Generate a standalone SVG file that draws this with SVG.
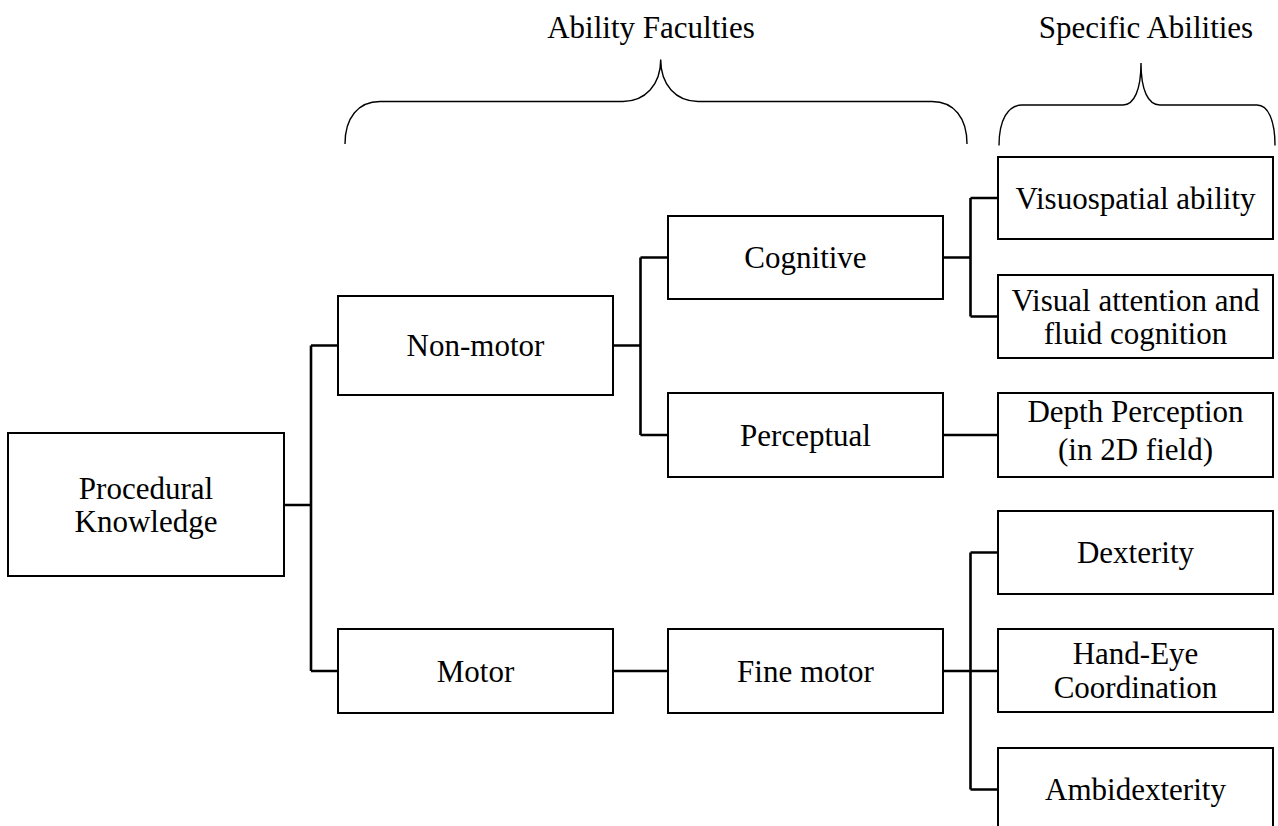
<svg xmlns="http://www.w3.org/2000/svg" width="1278" height="826" viewBox="0 0 1278 826">
<style>
.box{fill:#fff;stroke:#000;stroke-width:2}
.t{font-family:"Liberation Serif","Times New Roman",serif;font-size:31px;fill:#000;text-anchor:middle}
.c{fill:none;stroke:#000;stroke-width:2.6}
.br{fill:none;stroke:#000;stroke-width:1.4}
</style>
<rect width="1278" height="826" fill="#fff"/>
<g id="headers">
<text class="t" x="651" y="38">Ability Faculties</text>
<text class="t" x="1146" y="38">Specific Abilities</text>
<path class="br" d="M345,144 C345,118 358,101.5 380,101.5 L623,101.5 C645,101.5 660.7,85 660.7,59.5 C660.7,85 676,101.5 698,101.5 L932,101.5 C954,101.5 967,118 967,144"/>
<path class="br" d="M999,145.5 C999,120 1008,105 1022,105 L1123,105 C1134,105 1141,90 1141,63 C1141,90 1148,105 1160,105 L1257,105 C1268,105 1275,120 1275,145.5"/>
</g>
<g id="connectors">
<path class="c" d="M284,505 H311 M311,345.5 V671 M311,345.5 H338 M311,671 H338"/>
<path class="c" d="M613,345.5 H640.5 M640.5,257.5 V435 M640.5,257.5 H668 M640.5,435 H668"/>
<path class="c" d="M943,257.5 H970.5 M970.5,198 V316.5 M970.5,198 H998 M970.5,316.5 H998"/>
<path class="c" d="M943,435 H998"/>
<path class="c" d="M613,671 H668"/>
<path class="c" d="M943,671 H998 M970.5,552.5 V789.5 M970.5,552.5 H998 M970.5,789.5 H998"/>
</g>
<g id="procedural-knowledge">
<rect class="box" x="8" y="433" width="276" height="143"/>
<text class="t" x="146" y="498.5">Procedural</text>
<text class="t" x="146" y="531.5">Knowledge</text>
</g>
<g id="non-motor">
<rect class="box" x="338" y="296" width="275" height="99"/>
<text class="t" x="475.5" y="356">Non-motor</text>
</g>
<g id="motor">
<rect class="box" x="338" y="629" width="275" height="84"/>
<text class="t" x="475.5" y="681.5">Motor</text>
</g>
<g id="cognitive">
<rect class="box" x="668" y="216" width="275" height="83"/>
<text class="t" x="805.5" y="268">Cognitive</text>
</g>
<g id="perceptual">
<rect class="box" x="668" y="393" width="275" height="84"/>
<text class="t" x="805.5" y="445.5">Perceptual</text>
</g>
<g id="fine-motor">
<rect class="box" x="668" y="629" width="275" height="84"/>
<text class="t" x="805.5" y="681.5">Fine motor</text>
</g>
<g id="visuospatial">
<rect class="box" x="998" y="157" width="275" height="82"/>
<text class="t" x="1135.5" y="208.5">Visuospatial ability</text>
</g>
<g id="visual-attention">
<rect class="box" x="998" y="275" width="275" height="83"/>
<text class="t" x="1135.5" y="310.5">Visual attention and</text>
<text class="t" x="1135.5" y="343.5">fluid cognition</text>
</g>
<g id="depth-perception">
<rect class="box" x="998" y="393" width="275" height="84"/>
<text class="t" x="1135.5" y="421.5">Depth Perception</text>
<text class="t" x="1135.5" y="460">(in 2D field)</text>
</g>
<g id="dexterity">
<rect class="box" x="998" y="511" width="275" height="83"/>
<text class="t" x="1135.5" y="563">Dexterity</text>
</g>
<g id="hand-eye">
<rect class="box" x="998" y="629" width="275" height="83"/>
<text class="t" x="1135.5" y="664">Hand-Eye</text>
<text class="t" x="1135.5" y="697.5">Coordination</text>
</g>
<g id="ambidexterity">
<rect class="box" x="998" y="748" width="275" height="84"/>
<text class="t" x="1135.5" y="800">Ambidexterity</text>
</g>
</svg>
